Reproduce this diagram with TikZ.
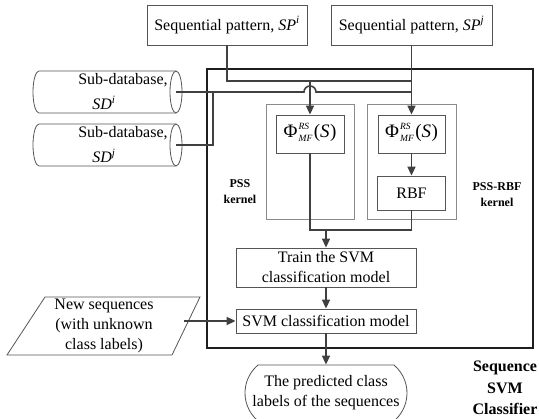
\documentclass[tikz,border=0pt]{standalone}
\usepackage{fontspec}
\setmainfont{Liberation Serif}
\usetikzlibrary{arrows.meta,shapes.misc}
\definecolor{lnc}{HTML}{404040}
\definecolor{bdc}{HTML}{555555}
\definecolor{grc}{HTML}{8A8A8A}
\definecolor{frc}{HTML}{1E1E1E}
\newcommand{\phimf}{Φ\kern1.2pt\raisebox{-4pt}{\fontsize{9.5}{9.5}\selectfont\itshape\begin{tabular}[b]{@{}l@{}}RS\\[2.5pt]MF\end{tabular}}\kern1.5pt(\textit{S}\kern0.5pt)}
\begin{document}
\begin{tikzpicture}[x=1pt,y=-1pt,
  txt/.style={font=\fontsize{16}{20}\selectfont, align=center, inner sep=0pt},
  box/.style={txt, draw=bdc, line width=0.8pt, fill=white},
  grp/.style={draw=grc, line width=1pt, inner sep=0pt},
  frame/.style={draw=frc, line width=2.6pt, inner sep=0pt},
  lbl/.style={font=\fontsize{12}{16}\selectfont\bfseries, align=center, inner sep=0pt},
  biglbl/.style={font=\fontsize{16}{21.5}\selectfont\bfseries, align=center, inner sep=0pt},
  conn/.style={draw=lnc, line width=1.6pt},
  arr/.style={conn, -{Triangle[length=9pt,width=8pt]}},
  outl/.style={draw=bdc, line width=0.8pt, fill=white}
]
\useasboundingbox (0,0) rectangle (539,419);

% main frame and groups
\node[frame, minimum width=326pt, minimum height=279pt] (frame) at (370,208.5) {};
\node[grp, minimum width=88pt, minimum height=115pt] (pssg) at (310,162.5) {};
\node[grp, minimum width=89pt, minimum height=115pt] (rbfg) at (411.5,162.5) {};

% top boxes
\node[box, minimum width=160pt, minimum height=40pt] (sp1) at (227,25) {Sequential pattern, \textit{SP}\textsuperscript{\itshape i}};
\node[box, minimum width=161pt, minimum height=40pt] (sp2) at (411.5,25) {Sequential pattern, \textit{SP}\textsuperscript{\itshape j}};

% inner boxes
\node[box, minimum width=68pt, minimum height=38pt, font=\fontsize{19}{20}\selectfont] (phi1) at (310,134) {\phimf};
\node[box, minimum width=67pt, minimum height=38pt, font=\fontsize{19}{20}\selectfont] (phi2) at (411.5,134) {\phimf};
\node[box, minimum width=68pt, minimum height=34pt] (rbf) at (411.5,193) {RBF};
\node[box, minimum width=180pt, minimum height=39pt] (train) at (326,267.5) {Train the SVM\\classification model};
\node[box, minimum width=180pt, minimum height=24pt] (svm) at (326,321) {SVM classification model};
\node[box, rounded rectangle, rounded rectangle arc length=100, minimum width=162pt, minimum height=56pt] (pred) at (326,393) {The predicted class\\labels of the sequences};

% labels
\node[lbl] (psslbl) at (240,192) {PSS\\kernel};
\node[lbl] (rbflbl) at (497,195) {PSS-RBF\\kernel};
\node[biglbl] (seqlbl) at (505,388) {Sequence\\SVM\\Classifier};

% cylinders
\draw[outl] (39,71) -- (176,71) -- (176,113) -- (39,113) arc[start angle=90, end angle=270, x radius=6, y radius=21] -- cycle;
\draw[outl] (176,92) ellipse[x radius=6pt, y radius=21pt];
\node[txt] (sd1a) at (123,80) {Sub-database,};
\node[txt] (sd1) at (104,103) {\textit{SD}\textsuperscript{\itshape i}};
\coordinate (c1) at (176,92);
\draw[outl] (39,124) -- (176,124) -- (176,166) -- (39,166) arc[start angle=90, end angle=270, x radius=6, y radius=21] -- cycle;
\draw[outl] (176,145) ellipse[x radius=6pt, y radius=21pt];
\node[txt] (sd2a) at (123,133) {Sub-database,};
\node[txt] (sd2) at (104,156) {\textit{SD}\textsuperscript{\itshape j}};
\coordinate (c2) at (176,145);

% new sequences
\draw[outl] (45,297) -- (200,297) -- (172,355) -- (7,355) -- cycle;
\node[txt] (newseq) at (104,326) {New sequences\\(with unknown\\class labels)};
\coordinate (ns) at (184.3,321);

% connectors
\coordinate (j1) at (411.5,81);
\coordinate (j2) at (411.5,92);
\coordinate (m) at (326,230);
\draw[conn] (sp1.south) |- (j1);
\draw[arr] (sp2.south) -- (phi2.north);
\draw[arr] (phi1.north |- j1) -- (phi1.north);
\draw[conn] (c1) -- (304,92) arc[start angle=180, end angle=360, radius=6] -- (j2);
\draw[conn] (c2) -| (213,92);
\draw[arr] (phi2.south) -- (rbf.north);
\draw[conn] (phi1.south) |- (m);
\draw[conn] (rbf.south) |- (m);
\draw[arr] (m) -- (train.north);
\draw[arr] (train.south) -- (svm.north);
\draw[arr] (svm.south) -- (pred.north);
\draw[arr] (ns) -- (svm.west);
\end{tikzpicture}
\end{document}
